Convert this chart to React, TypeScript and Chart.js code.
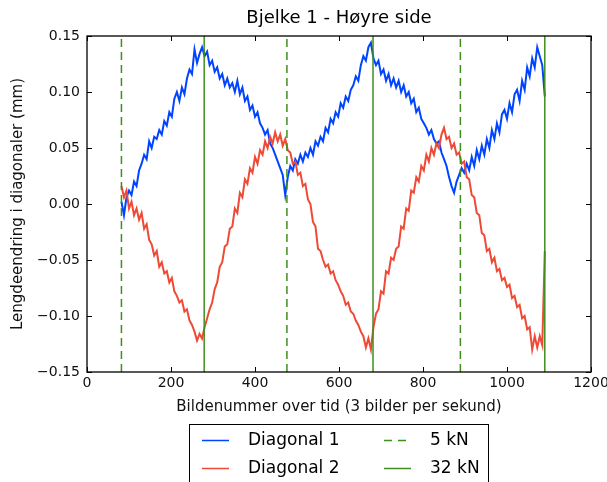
import React, { useEffect, useRef } from "react";
import { Chart, registerables } from "chart.js";

Chart.register(...registerables);

const TITLE = "Bjelke 1 - Høyre side";
const X_TITLE = "Bildenummer over tid (3 bilder per sekund)";
const Y_TITLE = "Lengdeendring i diagonaler (mm)";

const FRAME_START = 82;
const FRAME_STEP = 6;

const DIAGONAL_1 = [
  0.002, -0.010, 0.006, 0.012, 0.008, 0.020, 0.016, 0.030, 0.036, 0.044,
  0.040, 0.056, 0.050, 0.060, 0.058, 0.066, 0.062, 0.074, 0.070, 0.082,
  0.078, 0.094, 0.100, 0.092, 0.104, 0.098, 0.112, 0.120, 0.116, 0.138,
  0.126, 0.134, 0.140, 0.132, 0.136, 0.124, 0.128, 0.118, 0.122, 0.112,
  0.116, 0.106, 0.112, 0.104, 0.108, 0.100, 0.110, 0.098, 0.104, 0.092,
  0.096, 0.084, 0.088, 0.078, 0.082, 0.072, 0.068, 0.062, 0.066, 0.054,
  0.050, 0.044, 0.038, 0.032, 0.026, 0.008, 0.024, 0.034, 0.030, 0.040,
  0.036, 0.044, 0.038, 0.046, 0.042, 0.050, 0.044, 0.056, 0.052, 0.060,
  0.056, 0.068, 0.064, 0.076, 0.072, 0.082, 0.078, 0.090, 0.086, 0.096,
  0.092, 0.102, 0.106, 0.114, 0.110, 0.124, 0.132, 0.128, 0.140, 0.144,
  0.130, 0.124, 0.128, 0.116, 0.120, 0.110, 0.116, 0.106, 0.112, 0.104,
  0.110, 0.100, 0.106, 0.096, 0.100, 0.090, 0.094, 0.082, 0.086, 0.076,
  0.072, 0.068, 0.062, 0.066, 0.058, 0.054, 0.056, 0.046, 0.040, 0.034,
  0.024, 0.016, 0.010, 0.020, 0.026, 0.032, 0.028, 0.036, 0.030, 0.042,
  0.034, 0.048, 0.040, 0.052, 0.044, 0.058, 0.050, 0.066, 0.058, 0.072,
  0.064, 0.080, 0.084, 0.076, 0.090, 0.082, 0.098, 0.102, 0.092, 0.110,
  0.102, 0.122, 0.114, 0.130, 0.122, 0.140, 0.132, 0.124, 0.096,
];

const DIAGONAL_2 = [
  0.016, 0.006, 0.012, -0.004, 0.002, -0.010, -0.004, -0.014, -0.008, -0.022,
  -0.018, -0.032, -0.036, -0.046, -0.042, -0.056, -0.052, -0.062, -0.060, -0.070,
  -0.066, -0.078, -0.082, -0.088, -0.086, -0.096, -0.094, -0.104, -0.108, -0.114,
  -0.122, -0.116, -0.120, -0.110, -0.102, -0.094, -0.088, -0.076, -0.070, -0.056,
  -0.052, -0.038, -0.036, -0.022, -0.020, -0.004, -0.008, 0.010, 0.006, 0.022,
  0.018, 0.032, 0.028, 0.042, 0.036, 0.048, 0.044, 0.056, 0.050, 0.060,
  0.054, 0.064, 0.056, 0.062, 0.052, 0.058, 0.048, 0.046, 0.036, 0.038,
  0.026, 0.028, 0.016, 0.018, 0.004, 0.000, -0.016, -0.020, -0.040, -0.042,
  -0.050, -0.056, -0.054, -0.062, -0.060, -0.068, -0.072, -0.078, -0.082, -0.090,
  -0.088, -0.096, -0.098, -0.104, -0.108, -0.114, -0.118, -0.128, -0.120, -0.130,
  -0.110, -0.098, -0.094, -0.078, -0.080, -0.060, -0.062, -0.048, -0.050, -0.040,
  -0.038, -0.020, -0.022, -0.004, -0.006, 0.012, 0.010, 0.024, 0.020, 0.034,
  0.030, 0.044, 0.038, 0.050, 0.044, 0.054, 0.050, 0.062, 0.068, 0.058,
  0.060, 0.050, 0.054, 0.044, 0.046, 0.036, 0.038, 0.024, 0.022, 0.008,
  0.006, -0.008, -0.010, -0.026, -0.028, -0.042, -0.040, -0.052, -0.048, -0.060,
  -0.058, -0.068, -0.066, -0.074, -0.072, -0.084, -0.082, -0.092, -0.090, -0.102,
  -0.100, -0.112, -0.110, -0.130, -0.118, -0.128, -0.118, -0.126, -0.042,
];

const LOAD_5KN = [82, 476, 889];
const LOAD_32KN = [279, 681, 1090];

const X_MIN = 0;
const X_MAX = 1200;
const X_STEP = 200;
const Y_MIN = -0.15;
const Y_MAX = 0.15;
const Y_STEP = 0.05;

const BLUE = "#0044ff";
const RED = "#ee4a35";
const GREEN = "#3f8f1f";
const FONT = "'DejaVu Sans', 'Liberation Sans', sans-serif";

function seriesPoints(values: number[]) {
  return values.map((v, i) => ({ x: FRAME_START + i * FRAME_STEP, y: v }));
}

function verticalLines(xs: number[]) {
  const pts: { x: number; y: number | null }[] = [];
  xs.forEach((x) => {
    pts.push({ x, y: Y_MIN });
    pts.push({ x, y: Y_MAX });
    pts.push({ x, y: null });
  });
  return pts;
}

const framePlugin = {
  id: "mplFrame",
  afterDatasetsDraw(chart: any) {
    const { ctx, chartArea: a, scales } = chart;
    ctx.save();
    ctx.strokeStyle = "#000";
    ctx.lineWidth = 1;
    const tl = 5;
    ctx.beginPath();
    scales.x.ticks.forEach((t: any) => {
      const px = Math.round(scales.x.getPixelForValue(t.value)) + 0.5;
      ctx.moveTo(px, a.bottom);
      ctx.lineTo(px, a.bottom - tl);
      ctx.moveTo(px, a.top);
      ctx.lineTo(px, a.top + tl);
    });
    scales.y.ticks.forEach((t: any) => {
      const py = Math.round(scales.y.getPixelForValue(t.value)) + 0.5;
      ctx.moveTo(a.left, py);
      ctx.lineTo(a.left + tl, py);
      ctx.moveTo(a.right, py);
      ctx.lineTo(a.right - tl, py);
    });
    ctx.stroke();
    ctx.lineWidth = 1.3;
    ctx.strokeRect(a.left, a.top, a.right - a.left, a.bottom - a.top);
    ctx.restore();
  },
  afterDraw(chart: any) {
    const { ctx, chartArea: a } = chart;
    ctx.save();
    ctx.fillStyle = "#000";
    ctx.font = `18px ${FONT}`;
    ctx.textAlign = "center";
    ctx.textBaseline = "middle";
    ctx.fillText(TITLE, (a.left + a.right) / 2, 18);

    const bx = 189.5;
    const by = 424.5;
    const bw = 299;
    const bh = 62;
    ctx.fillStyle = "#fff";
    ctx.fillRect(bx, by, bw, bh);
    ctx.strokeStyle = "#000";
    ctx.lineWidth = 1;
    ctx.strokeRect(bx, by, bw, bh);

    const items = [
      { label: "Diagonal 1", color: BLUE, dash: [] as number[], x: 202, tx: 248, y: 440 },
      { label: "Diagonal 2", color: RED, dash: [] as number[], x: 202, tx: 248, y: 468 },
      { label: "5 kN", color: GREEN, dash: [8, 6], x: 384, tx: 430, y: 440 },
      { label: "32 kN", color: GREEN, dash: [] as number[], x: 384, tx: 430, y: 468 },
    ];
    ctx.font = `17px ${FONT}`;
    ctx.textAlign = "left";
    items.forEach((it) => {
      ctx.strokeStyle = it.color;
      ctx.lineWidth = 1.5;
      ctx.setLineDash(it.dash);
      ctx.beginPath();
      ctx.moveTo(it.x, it.y + 0.5);
      ctx.lineTo(it.x + 27, it.y + 0.5);
      ctx.stroke();
      ctx.setLineDash([]);
      ctx.fillStyle = "#000";
      ctx.fillText(it.label, it.tx, it.y + 1);
    });
    ctx.restore();
  },
};

export default function App() {
  const ref = useRef<HTMLCanvasElement | null>(null);

  useEffect(() => {
    if (!ref.current) return;
    const chart = new Chart(ref.current, {
      type: "line",
      data: {
        datasets: [
          {
            label: "32 kN",
            data: verticalLines(LOAD_32KN) as any,
            borderColor: GREEN,
            borderWidth: 1.5,
            pointRadius: 0,
            spanGaps: false,
          },
          {
            label: "5 kN",
            data: verticalLines(LOAD_5KN) as any,
            borderColor: GREEN,
            borderWidth: 1.5,
            borderDash: [8, 5],
            pointRadius: 0,
            spanGaps: false,
          },
          {
            label: "Diagonal 2",
            data: seriesPoints(DIAGONAL_2),
            borderColor: RED,
            borderWidth: 2,
            pointRadius: 0,
            tension: 0,
          },
          {
            label: "Diagonal 1",
            data: seriesPoints(DIAGONAL_1),
            borderColor: BLUE,
            borderWidth: 2,
            pointRadius: 0,
            tension: 0,
          },
        ],
      },
      options: {
        responsive: false,
        animation: false,
        devicePixelRatio: 1,
        layout: { padding: { left: 0, right: 16, top: 36, bottom: 66 } },
        plugins: {
          legend: { display: false },
          title: { display: false },
          tooltip: { enabled: false },
        },
        scales: {
          x: {
            type: "linear",
            min: X_MIN,
            max: X_MAX,
            grid: { display: false, drawTicks: false },
            border: { display: false },
            ticks: {
              stepSize: X_STEP,
              padding: 3,
              color: "#111",
              font: { family: FONT, size: 14 },
              maxRotation: 0,
              callback: (v: any) => String(Math.round(Number(v))),
            },
            title: {
              display: true,
              text: X_TITLE,
              color: "#111",
              font: { family: FONT, size: 15 },
              padding: 0,
            },
            afterFit: (s: any) => {
              s.height = 44;
              s.paddingLeft = 0;
              s.paddingRight = 0;
            },
          },
          y: {
            type: "linear",
            min: Y_MIN,
            max: Y_MAX,
            grid: { display: false, drawTicks: false },
            border: { display: false },
            ticks: {
              stepSize: Y_STEP,
              padding: 7,
              color: "#111",
              font: { family: FONT, size: 14 },
              callback: (v: any) => {
                const n = Number(v);
                if (Math.abs(n) < 1e-9) return "0.00";
                return n.toFixed(2).replace("-", "\u2212");
              },
            },
            title: {
              display: true,
              text: Y_TITLE,
              color: "#111",
              font: { family: FONT, size: 15 },
              padding: { top: 9, bottom: 0 },
            },
            afterFit: (s: any) => {
              s.width = 87;
              s.paddingTop = 0;
              s.paddingBottom = 0;
            },
          },
        },
      },
      plugins: [framePlugin],
    });
    return () => chart.destroy();
  }, []);

  return (
    <div style={{ position: "fixed", left: 0, top: 0, width: 607, height: 482, background: "#fff" }}>
      <canvas ref={ref} width={607} height={482} style={{ display: "block" }} />
    </div>
  );
}
